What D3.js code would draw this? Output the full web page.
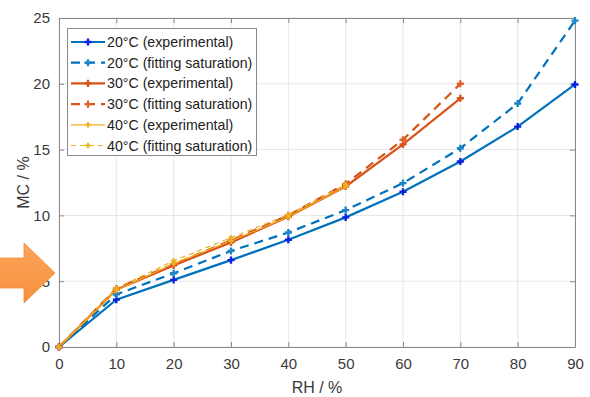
<!DOCTYPE html>
<html>
<head>
<meta charset="utf-8">
<script src="https://cdn.jsdelivr.net/npm/d3@7"></script>
<style>
  body { margin: 0; background: #fff; }
  svg { font-family: "Liberation Sans", Arial, sans-serif; }
  .tick text { fill: #3a3a3a; font-size: 15px; }
</style>
</head>
<body>
<div id="chart"></div>
<script>
const rh = [0, 10, 20, 30, 40, 50, 60, 70, 80, 90];
const exp20 = [0, 3.6, 5.1, 6.6, 8.15, 9.85, 11.8, 14.1, 16.75, 19.95];
const fit20 = [0, 4.0, 5.6, 7.3, 8.7, 10.4, 12.45, 15.1, 18.5, 24.8];
const exp30 = [0, 4.35, 6.2, 7.95, 9.9, 12.2, 15.4, 18.9];
const fit30 = [0, 4.45, 6.3, 8.1, 10.0, 12.4, 15.75, 20.0];
const exp40 = [0, 4.3, 6.35, 8.05, 9.9, 12.2];
const fit40 = [0, 4.45, 6.55, 8.3, 10.05, 12.35];
const xTicks = [0, 10, 20, 30, 40, 50, 60, 70, 80, 90];
const yTicks = [0, 5, 10, 15, 20, 25];

const series = [
  { name: '20°C (experimental)', vals: exp20, color: '#0072BD', marker: '#0a1fe0', dash: null, width: 2.2, msize: 28 },
  { name: '20°C (fitting saturation)', vals: fit20, color: '#0072BD', marker: '#1a86c8', dash: '9,6', width: 2.2, msize: 28 },
  { name: '30°C (experimental)', vals: exp30, color: '#D95319', marker: '#D95319', dash: null, width: 2.2, msize: 28 },
  { name: '30°C (fitting saturation)', vals: fit30, color: '#D95319', marker: '#e0622a', dash: '9,6', width: 2.2, msize: 28 },
  { name: '40°C (experimental)', vals: exp40, color: '#EDB120', marker: '#EDB120', dash: null, width: 1.2, msize: 18 },
  { name: '40°C (fitting saturation)', vals: fit40, color: '#EDB120', marker: '#EDB120', dash: '5,4', width: 1.2, msize: 18 }
];

const width = 590, height = 397;
const margin = { top: 18, right: 15, bottom: 50, left: 59 };
const svg = d3.select('#chart').append('svg')
  .attr('width', width).attr('height', height);

const x = d3.scaleLinear().domain([0, 90]).range([margin.left, width - margin.right]);
const y = d3.scaleLinear().domain([0, 25]).range([height - margin.bottom, margin.top]);

// grid
const g = svg.append('g');
g.selectAll('line.gx').data(xTicks).enter().append('line')
  .attr('x1', d => x(d)).attr('x2', d => x(d))
  .attr('y1', y(0)).attr('y2', y(25))
  .attr('stroke', '#e6e6e6').attr('stroke-width', 1);
g.selectAll('line.gy').data(yTicks).enter().append('line')
  .attr('x1', x(0)).attr('x2', x(90))
  .attr('y1', d => y(d)).attr('y2', d => y(d))
  .attr('stroke', '#e6e6e6').attr('stroke-width', 1);

// axes
const xAxis = svg.append('g').attr('transform', 'translate(0,' + y(0) + ')')
  .call(d3.axisBottom(x).tickValues(xTicks).tickSizeInner(-5).tickSizeOuter(0).tickPadding(11));
const yAxis = svg.append('g').attr('transform', 'translate(' + x(0) + ',0)')
  .call(d3.axisLeft(y).tickValues(yTicks).tickSizeInner(-5).tickSizeOuter(0).tickPadding(9));
const xTop = svg.append('g').attr('transform', 'translate(0,' + y(25) + ')')
  .call(d3.axisTop(x).tickValues(xTicks).tickSizeInner(-5).tickSizeOuter(0).tickFormat(''));
const yRight = svg.append('g').attr('transform', 'translate(' + x(90) + ',0)')
  .call(d3.axisRight(y).tickValues(yTicks).tickSizeInner(-5).tickSizeOuter(0).tickFormat(''));
[xAxis, yAxis, xTop, yRight].forEach(a => {
  a.selectAll('path, line').attr('stroke', '#8a8a8a');
});

// lines
const line = d3.line().x((d, i) => x(rh[i])).y(d => y(d));
series.forEach(s => {
  svg.append('path').datum(s.vals)
    .attr('fill', 'none')
    .attr('stroke', s.color)
    .attr('stroke-width', s.width)
    .attr('stroke-dasharray', s.dash)
    .attr('d', line);
});
// markers
series.forEach(s => {
  svg.append('g').selectAll('path').data(s.vals).enter().append('path')
    .attr('d', d3.symbol(d3.symbolCross, s.msize))
    .attr('transform', (d, i) => 'translate(' + x(rh[i]) + ',' + y(d) + ')')
    .attr('fill', s.marker);
});

// legend
const lg = svg.append('g');
lg.append('rect').attr('x', 67.5).attr('y', 28.5).attr('width', 189).attr('height', 127)
  .attr('fill', '#fff').attr('stroke', '#8a8a8a').attr('stroke-width', 1);
series.forEach((s, i) => {
  const ly = 42 + i * 20.7;
  lg.append('line').attr('x1', 71).attr('x2', 105).attr('y1', ly).attr('y2', ly)
    .attr('stroke', s.color).attr('stroke-width', s.width)
    .attr('stroke-dasharray', s.dash);
  lg.append('path').attr('d', d3.symbol(d3.symbolCross, s.msize))
    .attr('transform', 'translate(88,' + ly + ')').attr('fill', s.marker);
  lg.append('text').attr('x', 107).attr('y', ly + 5)
    .attr('font-size', 14.2).attr('fill', '#222').text(s.name);
});

// axis labels
svg.append('text').attr('x', (x(0) + x(90)) / 2).attr('y', 393)
  .attr('text-anchor', 'middle').attr('font-size', 16).attr('fill', '#3a3a3a').text('RH / %');
svg.append('text').attr('transform', 'translate(29,' + y(12.5) + ') rotate(-90)')
  .attr('text-anchor', 'middle').attr('font-size', 16).attr('fill', '#3a3a3a').text('MC / %');

// decorative arrow
const defs = svg.append('defs');
const grad = defs.append('linearGradient').attr('id', 'ag').attr('x1', 0).attr('x2', 0).attr('y1', 0).attr('y2', 1);
grad.append('stop').attr('offset', '0%').attr('stop-color', '#fba45a');
grad.append('stop').attr('offset', '100%').attr('stop-color', '#f7913c');
svg.append('path')
  .attr('d', 'M-2,258 L24,258 L24,243 L55,273 L24,303 L24,288 L-2,288 Z')
  .attr('fill', 'url(#ag)').attr('stroke', '#f08a35').attr('stroke-width', 0.8);
</script>
</body>
</html>
